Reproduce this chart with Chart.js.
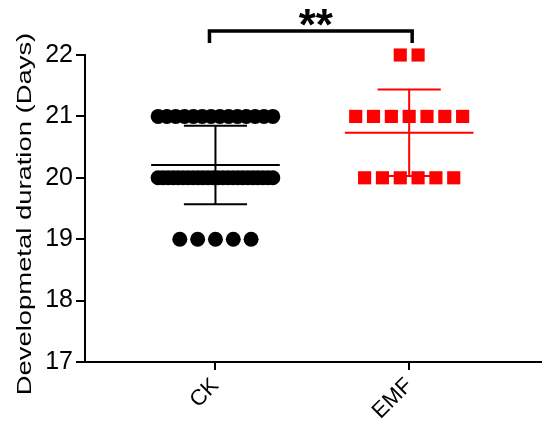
<!DOCTYPE html>
<html>
<head>
<meta charset="utf-8">
<script src="https://cdn.jsdelivr.net/npm/chart.js@4.4.1/dist/chart.umd.min.js"></script>
<style>
  html, body { margin: 0; padding: 0; background: #ffffff; }
  #wrap { width: 550px; height: 430px; }
</style>
</head>
<body>
<div id="wrap"><canvas id="c" width="550" height="430"></canvas></div>
<script>
// ---- Data ----
const categories = ['CK', 'EMF'];
const ckValues = [
  21,21,21,21,21,21,21,21,21,21,21,21,21,21,
  20,20,20,20,20,20,20,20,20,20,20,20,20,20,20,20,20,20,20,20,20,20,20,20,
  19,19,19,19,19
];
const emfValues = [
  22,22,
  21,21,21,21,21,21,21,
  20,20,20,20,20,20
];
const yTicks = [17, 18, 19, 20, 21, 22];
const yTitle = 'Developmetal duration (Days)';
const significance = '**';

// ---- Helpers ----
function mean(a) { return a.reduce((s, v) => s + v, 0) / a.length; }
function sd(a) {
  const m = mean(a);
  return Math.sqrt(a.reduce((s, v) => s + (v - m) * (v - m), 0) / (a.length - 1));
}
// Prism-like horizontal spreading of identical values
function spread(values, center) {
  const groups = {};
  values.forEach(v => { (groups[v] = groups[v] || []).push(v); });
  const pts = [];
  Object.keys(groups).forEach(k => {
    const n = groups[k].length;
    const step = n > 1 ? Math.min(0.092, 0.592 / (n - 1)) : 0;
    for (let i = 0; i < n; i++) {
      pts.push({ x: center + (i - (n - 1) / 2) * step, y: Number(k) });
    }
  });
  return pts;
}
function errorBars(values, center) {
  const m = mean(values), s = sd(values);
  const mw = 0.332, cw = 0.163;
  return [
    { x: center - mw, y: m }, { x: center + mw, y: m }, { x: center, y: null },
    { x: center, y: m - s }, { x: center, y: m + s }, { x: center, y: null },
    { x: center - cw, y: m + s }, { x: center + cw, y: m + s }, { x: center, y: null },
    { x: center - cw, y: m - s }, { x: center + cw, y: m - s }
  ];
}

const extras = {
  id: 'extras',
  afterDraw(chart) {
    const ctx = chart.ctx;
    const xs = chart.scales.x;
    // Y-axis title (stretched like the reference)
    ctx.save();
    ctx.translate(31, 214);
    ctx.rotate(-Math.PI / 2);
    ctx.scale(1.37, 1);
    ctx.font = '20px "Liberation Sans", Arial, sans-serif';
    ctx.fillStyle = '#000';
    ctx.textAlign = 'center';
    ctx.textBaseline = 'alphabetic';
    ctx.fillText(yTitle, 0, 0);
    ctx.restore();
    // Significance bracket
    const l = xs.getPixelForValue(1) - 6;
    const r = xs.getPixelForValue(2) + 3;
    ctx.save();
    ctx.strokeStyle = '#000';
    ctx.lineWidth = 3.5;
    ctx.lineCap = 'butt';
    ctx.lineJoin = 'miter';
    ctx.beginPath();
    ctx.moveTo(l, 43);
    ctx.lineTo(l, 31);
    ctx.lineTo(r, 31);
    ctx.lineTo(r, 43);
    ctx.stroke();
    ctx.font = 'bold 44px "Liberation Sans", Arial, sans-serif';
    ctx.fillStyle = '#000';
    ctx.textAlign = 'center';
    ctx.textBaseline = 'alphabetic';
    ctx.fillText(significance, (l + r) / 2 + 5, 40);
    ctx.restore();
  }
};

new Chart(document.getElementById('c'), {
  type: 'scatter',
  data: {
    datasets: [
      { label: categories[0], data: spread(ckValues, 1), pointStyle: 'circle', pointRadius: 7.5,
        backgroundColor: '#000000', borderWidth: 0, clip: false },
      { label: categories[1], data: spread(emfValues, 2), pointStyle: 'rect', pointRadius: 9.3,
        backgroundColor: '#ff0000', borderWidth: 0, clip: false },
      { type: 'line', label: 'CK mean±SD', data: errorBars(ckValues, 1), borderColor: '#000000',
        borderWidth: 2, pointRadius: 0, spanGaps: false, fill: false, clip: false },
      { type: 'line', label: 'EMF mean±SD', data: errorBars(emfValues, 2), borderColor: '#ff0000',
        borderWidth: 2, pointRadius: 0, spanGaps: false, fill: false, clip: false }
    ]
  },
  options: {
    responsive: false,
    animation: false,
    layout: { padding: { top: 55, right: 4, left: 0, bottom: 0 } },
    plugins: { legend: { display: false }, tooltip: { enabled: false } },
    scales: {
      x: {
        type: 'linear', position: 'bottom', min: 0.3265, max: 2.679,
        afterBuildTicks: axis => { axis.ticks = [{ value: 1 }, { value: 2 }]; },
        afterFit: axis => { axis.height = 68; },
        ticks: {
          callback: v => categories[Math.round(v) - 1],
          minRotation: 45, maxRotation: 45, color: '#000',
          font: { family: '"Liberation Sans", Arial, sans-serif', size: 22 },
          padding: 3
        },
        border: { display: true, color: '#000', width: 2 },
        grid: { drawOnChartArea: false, drawTicks: true, tickLength: 8, color: '#000', lineWidth: 2 }
      },
      y: {
        min: 17, max: 22,
        afterBuildTicks: axis => { axis.ticks = yTicks.map(v => ({ value: v })); },
        afterFit: axis => { axis.width = 85; },
        ticks: {
          color: '#000', padding: 3,
          font: { family: '"Liberation Sans", Arial, sans-serif', size: 25 }
        },
        border: { display: true, color: '#000', width: 2 },
        grid: { drawOnChartArea: false, drawTicks: true, tickLength: 9, color: '#000', lineWidth: 2 }
      }
    }
  },
  plugins: [extras]
});
</script>
</body>
</html>
